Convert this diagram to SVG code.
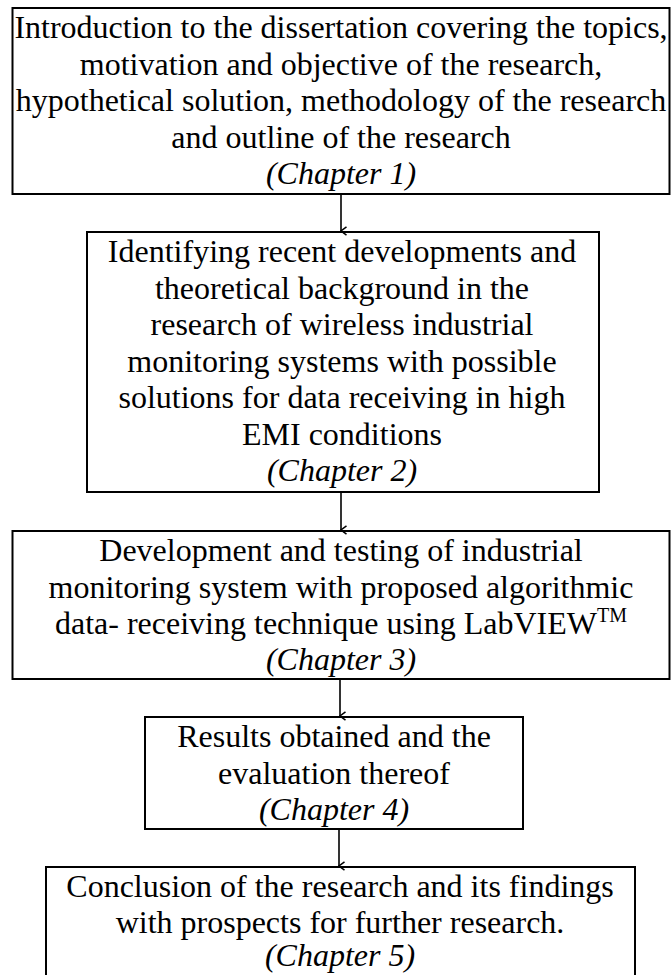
<svg xmlns="http://www.w3.org/2000/svg" width="672" height="975" viewBox="0 0 672 975">
  <style>
    .box { fill: #ffffff; stroke: #000000; stroke-width: 2; }
    .txt { font-family: "Liberation Serif", "Times New Roman", serif; font-size: 32px; fill: #000000; text-anchor: middle; }
    .ch { font-style: italic; }
    .conn { stroke: #000000; stroke-width: 1.6; fill: none; }
  </style>
  <defs>
    <marker id="arrow" markerWidth="10" markerHeight="10" refX="5" refY="9" orient="auto-start-reverse" markerUnits="userSpaceOnUse" viewBox="0 0 10 10">
      <path d="M0.8,3.5 L5,9 L9.2,3.5" fill="none" stroke="#000" stroke-width="1.5"/>
    </marker>
  </defs>

  <rect width="672" height="975" fill="#ffffff"/>

  <!-- Chapter 1 -->
  <g id="node-ch1">
    <rect class="box" x="12.5" y="8" width="657" height="186"/>
    <text class="txt" x="341" y="38">Introduction to the dissertation covering the topics,</text>
    <text class="txt" x="341" y="74.5">motivation and objective of the research,</text>
    <text class="txt" x="341" y="111">hypothetical solution, methodology of the research</text>
    <text class="txt" x="341" y="147.5">and outline of the research</text>
    <text class="txt ch" x="341" y="184">(Chapter 1)</text>
  </g>

  <!-- Chapter 2 -->
  <g id="node-ch2">
    <rect class="box" x="87" y="232" width="512" height="260"/>
    <text class="txt" x="342" y="262">Identifying recent developments and</text>
    <text class="txt" x="342" y="298.5">theoretical background in the</text>
    <text class="txt" x="342" y="335">research of wireless industrial</text>
    <text class="txt" x="342" y="371.5">monitoring systems with possible</text>
    <text class="txt" x="342" y="408">solutions for data receiving in high</text>
    <text class="txt" x="342" y="444.5">EMI conditions</text>
    <text class="txt ch" x="342" y="481">(Chapter 2)</text>
  </g>

  <!-- Chapter 3 -->
  <g id="node-ch3">
    <rect class="box" x="12.5" y="531" width="657" height="148"/>
    <text class="txt" x="341" y="561">Development and testing of industrial</text>
    <text class="txt" x="341" y="597.5">monitoring system with proposed algorithmic</text>
    <text class="txt" x="341" y="634">data- receiving technique using LabVIEW<tspan font-size="20" dy="-12">TM</tspan></text>
    <text class="txt ch" x="341" y="670">(Chapter 3)</text>
  </g>

  <!-- Chapter 4 -->
  <g id="node-ch4">
    <rect class="box" x="145" y="717" width="378" height="112"/>
    <text class="txt" x="334" y="747">Results obtained and the</text>
    <text class="txt" x="334" y="783.5">evaluation thereof</text>
    <text class="txt ch" x="334" y="820">(Chapter 4)</text>
  </g>

  <!-- Chapter 5: box runs past the bottom edge of the page -->
  <g id="node-ch5">
    <rect class="box" x="46" y="867" width="589" height="120"/>
    <text class="txt" x="340" y="897">Conclusion of the research and its findings</text>
    <text class="txt" x="340" y="933">with prospects for further research.</text>
    <text class="txt ch" x="340" y="966">(Chapter 5)</text>
  </g>

  <!-- Connectors -->
  <g id="connectors">
    <line class="conn" x1="341" y1="194" x2="341" y2="231" marker-end="url(#arrow)"/>
    <line class="conn" x1="341" y1="492" x2="341" y2="530" marker-end="url(#arrow)"/>
    <line class="conn" x1="340" y1="679" x2="340" y2="716" marker-end="url(#arrow)"/>
    <line class="conn" x1="339" y1="829" x2="339" y2="866" marker-end="url(#arrow)"/>
  </g>
</svg>
